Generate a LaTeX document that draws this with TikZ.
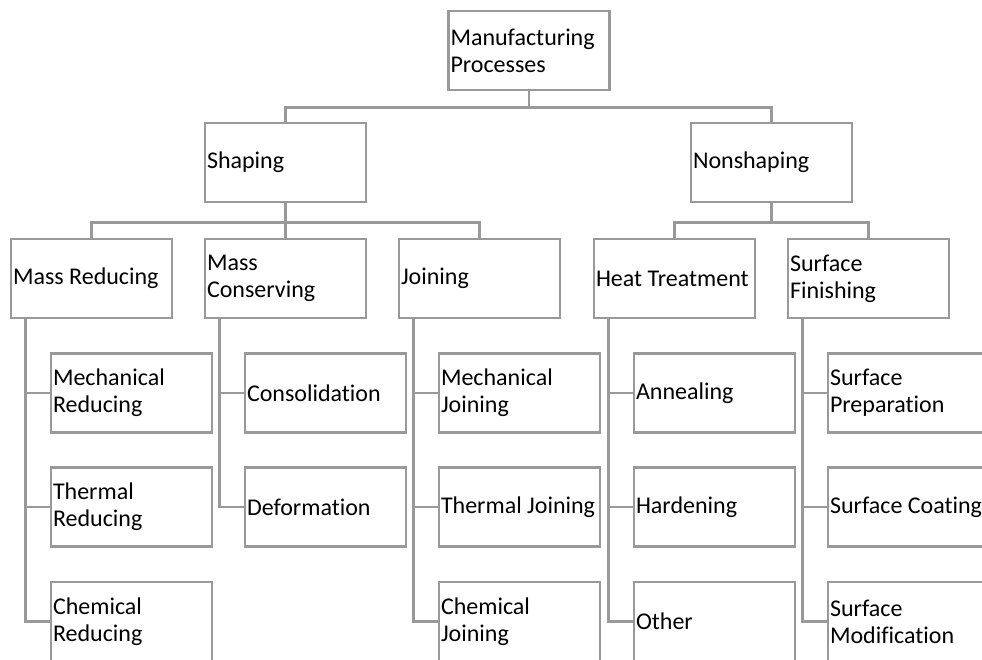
\documentclass[tikz,border=0pt]{standalone}
\usepackage{fontspec}
\setmainfont{Carlito}[Ligatures={NoCommon}]
\usetikzlibrary{calc}
\tikzset{
	box/.style={draw=black!40, line width=0.9mm, fill=white, minimum width=161pt, minimum height=79pt, text width=157pt, inner xsep=2pt, align=flush left, font=\fontsize{24}{27}\selectfont},
	link/.style={draw=black!40, line width=0.9mm},
}

\begin{document}
\begin{tikzpicture}[x=1pt, y=-1pt]
		%%%%% START %%%%%
		\clip (0, 0) rectangle (982, 660);
		
		\node[box] (root) at (529, 50.5) {Manufacturing\\Processes};
		
		\node[box] (shaping) at (285.5, 162.5) {Shaping};
		\node[box] (nonshaping) at (771.5, 162.5) {Nonshaping};
		
		\node[box] (massred) at (91.5, 278.5) {Mass Reducing};
		\node[box] (masscons) at (285.5, 278.5) {Mass\\Conserving};
		\node[box] (joining) at (479.5, 278.5) {Joining};
		\node[box] (heat) at (674.5, 278.5) {Heat~Treatment};
		\node[box] (surface) at (868.5, 278.5) {Surface\\Finishing};
		
		\node[box] (mechred) at (131.5, 393) {Mechanical\\Reducing};
		\node[box] (thermred) at (131.5, 507) {Thermal\\Reducing};
		\node[box] (chemred) at (131.5, 621.5) {Chemical\\Reducing};
		
		\node[box] (consol) at (325.5, 393) {Consolidation};
		\node[box] (deform) at (325.5, 507) {Deformation};
		
		\node[box] (mechjoin) at (519.5, 393) {Mechanical\\Joining};
		\node[box] (thermjoin) at (519.5, 507) {Thermal~Joining};
		\node[box] (chemjoin) at (519.5, 621.5) {Chemical\\Joining};
		
		\node[box] (anneal) at (714.5, 393) {Annealing};
		\node[box] (harden) at (714.5, 507) {Hardening};
		\node[box] (other) at (714.5, 621.5) {Other};
		
		\node[box] (surfprep) at (908.5, 393) {Surface\\Preparation};
		\node[box] (surfcoat) at (908.5, 507) {Surface~Coating};
		\node[box] (surfmod) at (908.5, 621.5) {Surface\\Modification};
		
		% tree links
		\draw[link] (root.south) -- ++(0, 16.5) -| (shaping.north);
		\draw[link] (root.south) -- ++(0, 16.5) -| (nonshaping.north);
		
		\draw[link] (shaping.south) -- ++(0, 19.5) -| (massred.north);
		\draw[link] (shaping.south) -- ++(0, 19.5) -| (masscons.north);
		\draw[link] (shaping.south) -- ++(0, 19.5) -| (joining.north);
		\draw[link] (nonshaping.south) -- ++(0, 19.5) -| (heat.north);
		\draw[link] (nonshaping.south) -- ++(0, 19.5) -| (surface.north);
		
		% side links
		\foreach \p/\c in {massred/mechred, massred/thermred, massred/chemred, masscons/consol, masscons/deform, joining/mechjoin, joining/thermjoin, joining/chemjoin, heat/anneal, heat/harden, heat/other, surface/surfprep, surface/surfcoat, surface/surfmod}
			\draw[link] ($(\p.south west)+(16, 0)$) |- (\c.west);
		
		%%%%% END %%%%%
	\end{tikzpicture}
\end{document}
